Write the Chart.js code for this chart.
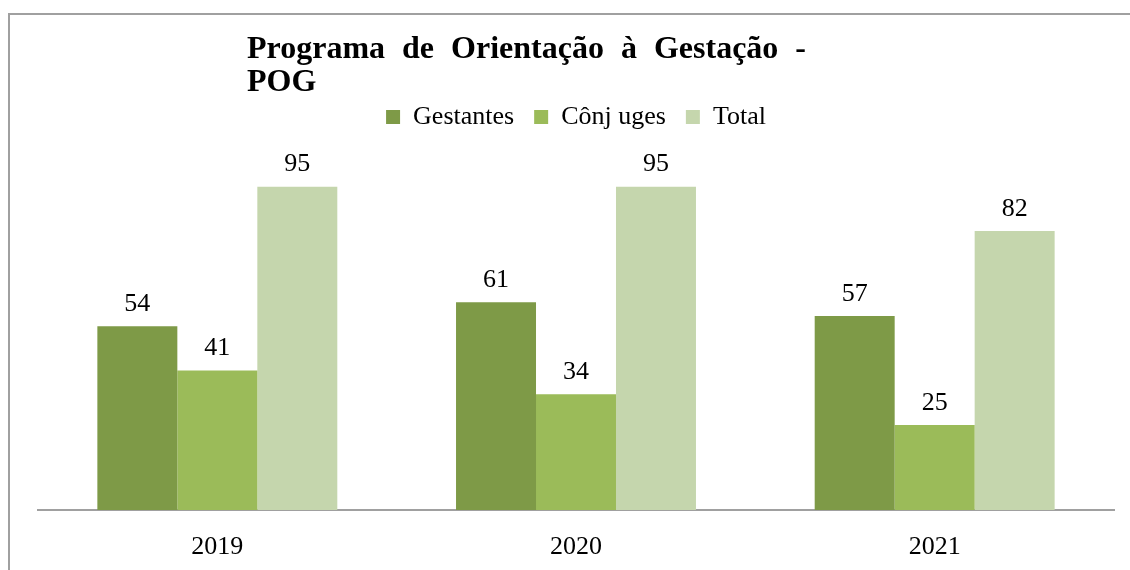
<!DOCTYPE html>
<html>
<head>
<meta charset="utf-8">
<script src="https://cdn.jsdelivr.net/npm/chart.js@4.4.0/dist/chart.umd.min.js"></script>
<style>
  html, body { margin: 0; padding: 0; background: #fff; overflow: hidden; }
  #wrap { position: relative; width: 1130px; height: 570px; }
  #frame { position: absolute; left: 8px; top: 13px; width: 1200px; height: 700px;
           border: 2px solid #a0a0a0; pointer-events: none; }
</style>
</head>
<body>
<div id="wrap">
  <canvas id="chart" width="1130" height="570"></canvas>
  <div id="frame"></div>
</div>
<script>
// dados
const years = ['2019', '2020', '2021'];
const gestantes = [54, 61, 57];
const conjuges = [41, 34, 25];
const total = [95, 95, 82];
const seriesNames = ['Gestantes', 'Cônj uges', 'Total'];

const serif = "'Liberation Serif', 'Times New Roman', serif";

// titulo justificado
const titlePlugin = {
    id: 'titulo',
    afterDraw(chart) {
        const ctx = chart.ctx;
        ctx.save();
        ctx.fillStyle = '#000';
        ctx.font = 'bold 32px ' + serif;
        ctx.textBaseline = 'alphabetic';
        const words = ['Programa', 'de', 'Orientação', 'à', 'Gestação', '-'];
        const x0 = 247, x1 = 806;
        let sum = 0;
        words.forEach(w => sum += ctx.measureText(w).width);
        const gap = (x1 - x0 - sum) / (words.length - 1);
        let x = x0;
        words.forEach(w => {
            ctx.fillText(w, x, 58);
            x += ctx.measureText(w).width + gap;
        });
        ctx.fillText('POG', x0, 91);
        ctx.restore();
    }
};

// valores em cima das barras
const labelPlugin = {
    id: 'rotulos',
    afterDatasetsDraw(chart) {
        const ctx = chart.ctx;
        ctx.save();
        ctx.fillStyle = '#000';
        ctx.font = '26px ' + serif;
        ctx.textAlign = 'center';
        ctx.textBaseline = 'middle';
        chart.data.datasets.forEach((ds, i) => {
            chart.getDatasetMeta(i).data.forEach((bar, j) => {
                ctx.fillText(ds.data[j], bar.x, bar.y - 22);
            });
        });
        ctx.restore();
    }
};

new Chart(
    document.getElementById('chart'),
    {
        type: 'bar',
        data: {
            labels: years,
            datasets: [
                { label: seriesNames[0], data: gestantes, backgroundColor: '#7e9a47' },
                { label: seriesNames[1], data: conjuges, backgroundColor: '#9bbb59' },
                { label: seriesNames[2], data: total, backgroundColor: '#c5d6ad' }
            ]
        },
        options: {
            responsive: false,
            animation: false,
            layout: {
                padding: { top: 84, left: 38, right: 16, bottom: 0 }
            },
            datasets: {
                bar: { categoryPercentage: 0.669, barPercentage: 1 }
            },
            plugins: {
                title: { display: false },
                tooltip: { enabled: false },
                legend: {
                    display: true,
                    position: 'top',
                    labels: {
                        boxWidth: 14,
                        boxHeight: 14,
                        padding: 20,
                        color: '#000',
                        font: { family: serif, size: 26 }
                    }
                }
            },
            scales: {
                x: {
                    grid: { display: false, drawTicks: false },
                    border: { display: true, color: '#a0a0a0', width: 2 },
                    ticks: {
                        color: '#000',
                        padding: 22,
                        font: { family: serif, size: 26 }
                    },
                    afterFit(scale) {
                        scale.height = 60;
                    }
                },
                y: {
                    display: false,
                    min: 0,
                    max: 108.7
                }
            }
        },
        plugins: [titlePlugin, labelPlugin]
    }
);
</script>
</body>
</html>
